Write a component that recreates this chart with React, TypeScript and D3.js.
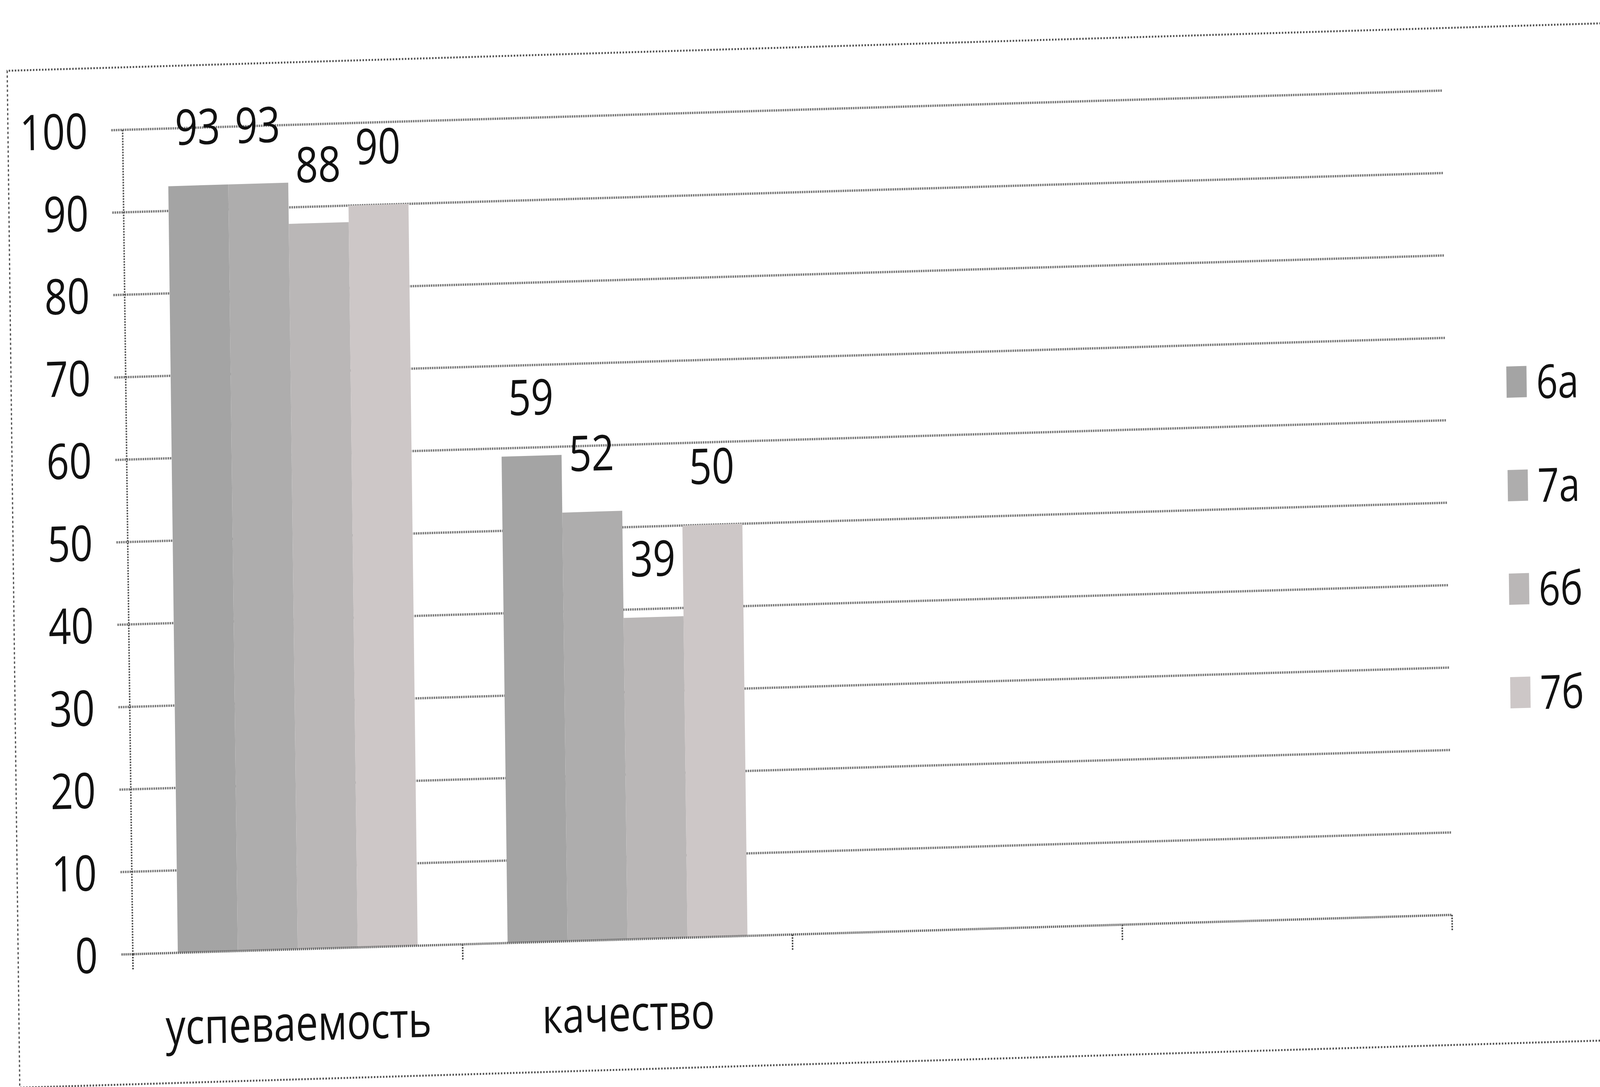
import React, { useEffect, useRef } from "react";
import * as d3 from "d3";

const categories = ["успеваемость", "качество", "", ""];
const seriesNames = ["6а", "7а", "6б", "7б"];
const values6a = [93, 59];
const values7a = [93, 52];
const values6b = [88, 39];
const values7b = [90, 50];
const yTicks = [0, 10, 20, 30, 40, 50, 60, 70, 80, 90, 100];
const seriesColors = ["#a4a4a4", "#aeadad", "#bab7b7", "#cdc7c7"];

const App: React.FC = () => {
  const svgRef = useRef<SVGSVGElement>(null);

  useEffect(() => {
    document.body.style.margin = "0";
    document.body.style.overflow = "hidden";
    if (!svgRef.current) return;

    const width = 6348;
    const height = 2782;
    const margin = { left: 527, top: 332 };
    const plotW = 5235;
    const plotH = 2110;
    const font = "'Open Sans', 'Noto Sans', sans-serif";
    const fontSize = 126;

    // the svg is stretched to the window; texts get a partial counter-stretch
    const sx = window.innerWidth / width;
    const sy = window.innerHeight / height;
    const tx = Math.sqrt(sy / sx);
    const textAt = (x: number, y: number) => `translate(${x},${y}) scale(${tx},1)`;

    const svg = d3.select(svgRef.current);
    svg.selectAll("*").remove();
    svg
      .attr("viewBox", `0 0 ${width} ${height}`)
      .attr("preserveAspectRatio", "none");
    svg.append("rect").attr("width", width).attr("height", height).attr("fill", "#fff");

    // the scan is tilted a little, so the whole chart is turned round the axis origin
    const root = svg
      .append("g")
      .attr("transform", `rotate(-1.1, ${margin.left}, ${margin.top + plotH})`);

    // outer chart area border
    root
      .append("path")
      .attr("d", `M6600,172 H72 V2775 H6600`)
      .attr("fill", "none")
      .attr("stroke", "#555")
      .attr("stroke-width", 5)
      .attr("stroke-dasharray", "6 6");

    const g = root.append("g").attr("transform", `translate(${margin.left},${margin.top})`);

    const x0 = d3
      .scaleBand<number>()
      .domain(categories.map((_, i) => i))
      .range([0, plotW]);
    const bw = x0.bandwidth();
    const gap = (bw * 0.75) / 5.5;
    const x1 = d3.scaleBand().domain(seriesNames).range([gap, bw - gap]);
    const y = d3.scaleLinear().domain([0, 100]).range([plotH, 0]);

    // gridlines with left tick marks
    g.selectAll(".grid")
      .data(yTicks.filter((t) => t > 0))
      .enter()
      .append("line")
      .attr("x1", -45)
      .attr("x2", plotW)
      .attr("y1", (d) => y(d))
      .attr("y2", (d) => y(d))
      .attr("stroke", "#7a7a7a")
      .attr("stroke-width", 6)
      .attr("stroke-dasharray", "6 3");

    // y axis
    g.append("line")
      .attr("x1", 0)
      .attr("x2", 0)
      .attr("y1", 0)
      .attr("y2", plotH)
      .attr("stroke", "#555")
      .attr("stroke-width", 6)
      .attr("stroke-dasharray", "4 3");

    const seriesValues = [values6a, values7a, values6b, values7b];

    seriesValues.forEach((vals, s) => {
      g.selectAll(`.bar-${s}`)
        .data(vals)
        .enter()
        .append("rect")
        .attr("x", (_, i) => x0(i)! + x1(seriesNames[s])!)
        .attr("y", (d) => y(d))
        .attr("width", x1.bandwidth())
        .attr("height", (d) => plotH - y(d))
        .attr("fill", seriesColors[s]);

      g.selectAll(`.label-${s}`)
        .data(vals)
        .enter()
        .append("text")
        .attr("transform", (d, i) =>
          textAt(x0(i)! + x1(seriesNames[s])! + x1.bandwidth() / 2, y(d) - 105)
        )
        .attr("text-anchor", "middle")
        .style("font-family", font)
        .style("font-size", `${fontSize}px`)
        .attr("fill", "#111")
        .text((d) => d);
    });

    // x axis with ticks at category boundaries
    g.append("line")
      .attr("x1", -45)
      .attr("x2", plotW)
      .attr("y1", plotH)
      .attr("y2", plotH)
      .attr("stroke", "#666")
      .attr("stroke-width", 6)
      .attr("stroke-dasharray", "5 3");

    g.selectAll(".xtick")
      .data(d3.range(categories.length + 1))
      .enter()
      .append("line")
      .attr("x1", (d) => d * bw)
      .attr("x2", (d) => d * bw)
      .attr("y1", plotH)
      .attr("y2", plotH + 42)
      .attr("stroke", "#444")
      .attr("stroke-width", 6)
      .attr("stroke-dasharray", "4 3");

    // y tick labels
    g.selectAll(".ylabel")
      .data(yTicks)
      .enter()
      .append("text")
      .attr("transform", (d) => textAt(-139, y(d) + 45))
      .attr("text-anchor", "end")
      .style("font-family", font)
      .style("font-size", `${fontSize}px`)
      .attr("fill", "#111")
      .text((d) => d);

    // category labels
    g.selectAll(".xlabel")
      .data(categories)
      .enter()
      .append("text")
      .attr("transform", (_, i) => textAt(x0(i)! + bw / 2, plotH + 234))
      .attr("text-anchor", "middle")
      .style("font-family", font)
      .style("font-size", `${fontSize}px`)
      .attr("fill", "#111")
      .text((d) => d);

    // legend
    const legend = g
      .selectAll(".legend")
      .data(seriesNames)
      .enter()
      .append("g")
      .attr("transform", (_, i) => `translate(5517,${751 + i * 265})`);

    legend
      .append("rect")
      .attr("x", -40)
      .attr("y", -40)
      .attr("width", 80)
      .attr("height", 80)
      .attr("fill", (_, i) => seriesColors[i]);

    legend
      .append("text")
      .attr("transform", textAt(78, 44))
      .style("font-family", font)
      .style("font-size", `${fontSize - 6}px`)
      .attr("fill", "#111")
      .text((d) => d);
  }, []);

  return (
    <svg
      ref={svgRef}
      style={{ display: "block", width: "100vw", height: "100vh" }}
    />
  );
};

export default App;
